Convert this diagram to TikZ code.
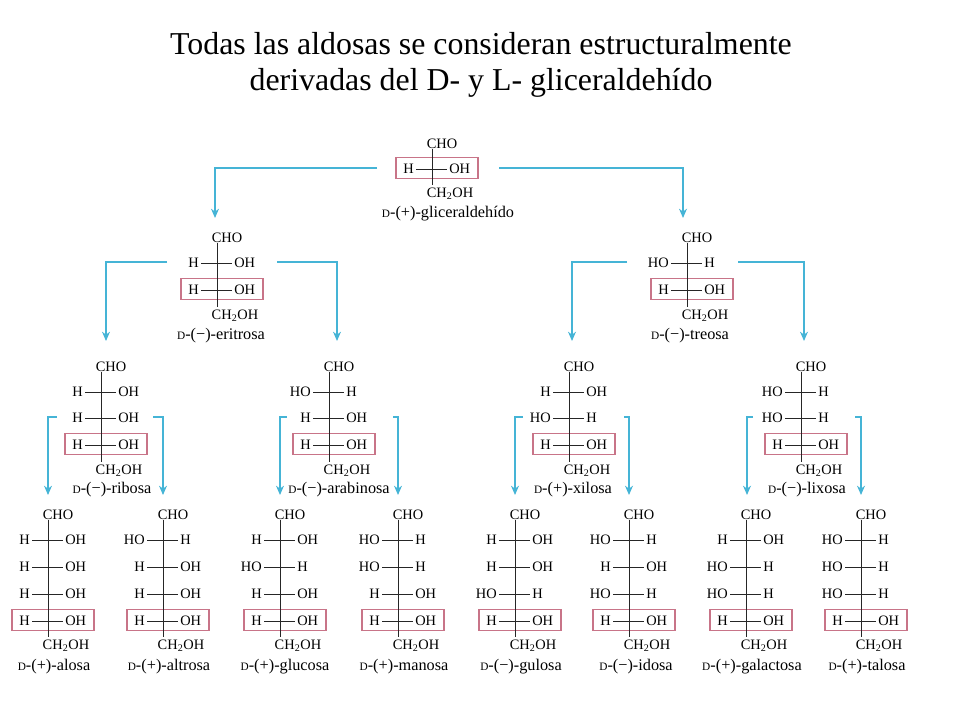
\documentclass[tikz,border=0pt]{standalone}
\usepackage{fontspec}
\usetikzlibrary{arrows.meta}
\setmainfont{Liberation Serif}
\definecolor{boxrose}{HTML}{C87488}
\definecolor{arrowblue}{HTML}{45B4D6}
\newcommand{\smalld}{{\fontsize{8.5}{10}\selectfont D}}
\tikzset{
	title/.style={font=\fontsize{23.9}{27}\selectfont,inner sep=0pt},
	chem/.style={font=\fontsize{10.8}{12}\selectfont,inner sep=1.5pt,yshift=-0.75pt},
	sugarname/.style={font=\fontsize{12.2}{14}\selectfont,inner sep=0pt,yshift=-0.75pt},
	rowbox/.style={draw=boxrose,line width=0.8pt,minimum width=61.5pt,minimum height=15.75pt,inner sep=0pt},
	bond/.style={line width=0.6pt,black!85},
	branch/.style={arrowblue,line width=0.9pt,-{Stealth[length=7pt,width=6pt]}}
}
% #1 name, #2 x of chain, #3 y of CHO, #4 rows left/right/y, #5 y of the boxed row, #6 y of CH2OH, #7 text under it, #8 its place
\newcommand{\fischer}[8]{
	\node[rowbox] (#1box) at (#2+5,#5) {};
	\node[chem] (#1top) at (#2+10,#3) {CHO};
	\node[chem] (#1end) at (#2+18,#6) {CH\textsubscript{2}OH};
	\node[sugarname] (#1name) at (#8) {#7};
	\coordinate (#1a) at (#2,#3+6);
	\coordinate (#1b) at (#2,#6-8);
	\draw[bond] (#1a) -- (#1b);
	\foreach \lft/\rgt/\yrow [count=\i] in {#4}{
		\node[chem,anchor=east] (#1l\i) at (#2-16,\yrow) {\lft};
		\node[chem,anchor=west] (#1r\i) at (#2+15,\yrow) {\rgt};
		\draw[bond] (#1l\i) -- (#1r\i);
	}
}
% #1 name, #2 start, #3 end of the arrow
\newcommand{\fork}[3]{
	\coordinate (#1a) at (#2);
	\coordinate (#1b) at (#3);
	\draw[branch] (#1a) -| (#1b);
}
\begin{document}
\begin{tikzpicture}[x=0.75pt,y=-0.75pt]
	\useasboundingbox (0,0) rectangle (960,720);

	\node[title] (title1) at (481,44) {Todas las aldosas se consideran estructuralmente};
	\node[title] (title2) at (481,83) {derivadas del D- y L- gliceraldehído};

	% triosa
	\fischer{gli}{432}{143}{H/OH/168}{168}{193}{\smalld-(+)-gliceraldehído}{448,213}

	% tetrosas
	\fischer{eri}{217}{237}{H/OH/262,H/OH/289}{289}{315}{\smalld-(−)-eritrosa}{221,335}
	\fischer{tre}{687}{237}{HO/H/262,H/OH/289}{289}{315}{\smalld-(−)-treosa}{690,335}

	% pentosas
	\fischer{rib}{101}{366}{H/OH/391,H/OH/417,H/OH/444}{444}{470}{\smalld-(−)-ribosa}{112,489}
	\fischer{ara}{329}{366}{HO/H/391,H/OH/417,H/OH/444}{444}{470}{\smalld-(−)-arabinosa}{339,489}
	\fischer{xil}{569}{366}{H/OH/391,HO/H/417,H/OH/444}{444}{470}{\smalld-(+)-xilosa}{573,489}
	\fischer{lix}{801}{366}{HO/H/391,HO/H/417,H/OH/444}{444}{470}{\smalld-(−)-lixosa}{807,489}

	% hexosas
	\fischer{alo}{48}{514}{H/OH/539,H/OH/566,H/OH/593,H/OH/620}{620}{645}{\smalld-(+)-alosa}{54,666}
	\fischer{alt}{163}{514}{HO/H/539,H/OH/566,H/OH/593,H/OH/620}{620}{645}{\smalld-(+)-altrosa}{169,666}
	\fischer{glu}{280}{514}{H/OH/539,HO/H/566,H/OH/593,H/OH/620}{620}{645}{\smalld-(+)-glucosa}{285,666}
	\fischer{man}{398}{514}{HO/H/539,HO/H/566,H/OH/593,H/OH/620}{620}{645}{\smalld-(+)-manosa}{404,666}
	\fischer{gul}{515}{514}{H/OH/539,H/OH/566,HO/H/593,H/OH/620}{620}{645}{\smalld-(−)-gulosa}{521,666}
	\fischer{ido}{629}{514}{HO/H/539,H/OH/566,HO/H/593,H/OH/620}{620}{645}{\smalld-(−)-idosa}{636,666}
	\fischer{gal}{746}{514}{H/OH/539,HO/H/566,HO/H/593,H/OH/620}{620}{645}{\smalld-(+)-galactosa}{752,666}
	\fischer{tal}{861}{514}{HO/H/539,HO/H/566,HO/H/593,H/OH/620}{620}{645}{\smalld-(+)-talosa}{867,666}

	\fork{fa}{377,168}{215,218}
	\fork{fb}{499,168}{683,218}
	\fork{fc}{167,262}{106,341}
	\fork{fd}{277,262}{337,341}
	\fork{fe}{627,262}{572,341}
	\fork{ff}{738,262}{804,341}
	\fork{fg}{57,417}{48,495}
	\fork{fh}{153,417}{163,495}
	\fork{fi}{287,417}{280,495}
	\fork{fj}{393,417}{398,495}
	\fork{fk}{523,417}{515,495}
	\fork{fl}{624,417}{629,495}
	\fork{fm}{753,417}{747,495}
	\fork{fn}{855,417}{861,495}
\end{tikzpicture}
\end{document}
